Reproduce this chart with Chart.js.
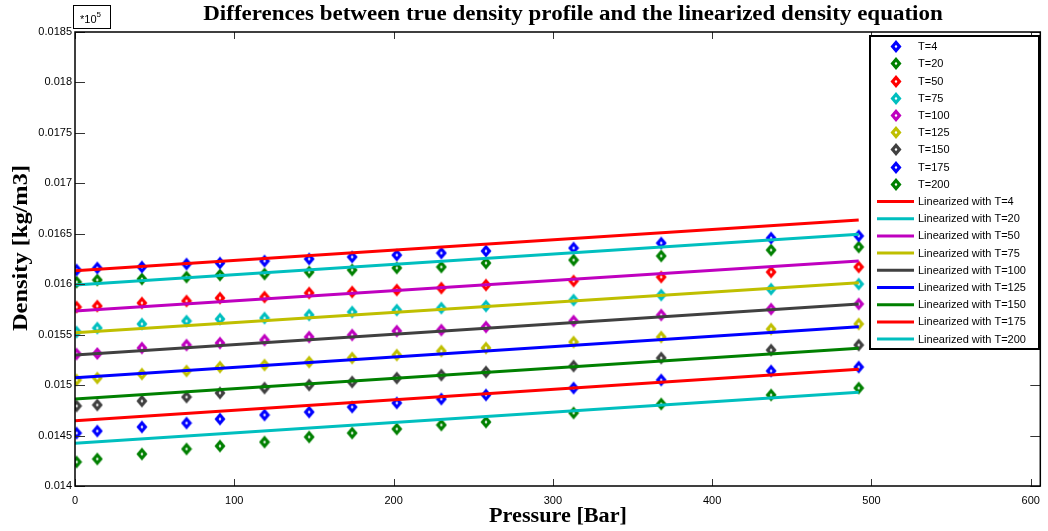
<!DOCTYPE html>
<html>
<head>
<meta charset="utf-8">
<title>Density vs pressure</title>
<script src="https://cdn.jsdelivr.net/npm/chart.js@4.4.1/dist/chart.umd.min.js"></script>
<style>
  html, body { margin: 0; padding: 0; background: #fff; }
  #wrap { width: 1048px; height: 531px; }
</style>
</head>
<body>
<div id="wrap"><canvas id="densityChart" width="1048" height="531"></canvas></div>
<script>
// ===== Data =====

// pressure steps [Bar]
const pressure = [1, 14, 42, 70, 91, 119, 147, 174, 202, 230, 258, 313, 368, 437, 492];
const temps = [4, 20, 50, 75, 100, 125, 150, 175, 200];

// true density [kg/m3] at each temperature
const rhoT4   = [1614.1, 1616.1, 1617.1, 1620.0, 1621.0, 1623.0, 1625.0, 1627.0, 1628.9, 1630.9, 1632.9, 1635.9, 1640.8, 1645.8, 1647.8];
const rhoT20  = [1602.2, 1604.2, 1605.2, 1607.1, 1609.1, 1610.1, 1612.1, 1614.1, 1616.1, 1617.1, 1621.0, 1624.0, 1628.0, 1633.9, 1636.9];
const rhoT50  = [1577.4, 1578.4, 1581.4, 1583.4, 1586.3, 1587.3, 1591.3, 1592.3, 1594.3, 1596.2, 1599.2, 1603.2, 1607.1, 1612.1, 1617.1];
const rhoT75  = [1552.6, 1556.6, 1560.6, 1563.5, 1565.5, 1566.5, 1569.5, 1572.5, 1574.4, 1576.4, 1578.4, 1584.3, 1589.3, 1595.2, 1600.2];
const rhoT100 = [1530.8, 1531.3, 1536.8, 1539.7, 1541.7, 1544.7, 1547.7, 1549.7, 1553.6, 1554.6, 1557.6, 1563.5, 1569.5, 1575.4, 1580.4];
const rhoT125 = [1505.1, 1507.0, 1511.0, 1514.0, 1517.9, 1519.9, 1522.9, 1526.9, 1529.8, 1533.8, 1536.8, 1542.7, 1547.7, 1555.6, 1560.6];
const rhoT150 = [1479.3, 1480.3, 1484.2, 1488.2, 1492.2, 1497.1, 1500.1, 1503.1, 1507.0, 1510.0, 1513.0, 1518.9, 1526.9, 1534.8, 1539.7];
const rhoT175 = [1452.5, 1454.5, 1458.5, 1462.4, 1466.4, 1470.4, 1473.3, 1478.3, 1482.3, 1486.2, 1490.2, 1497.1, 1505.1, 1514.0, 1517.9];
const rhoT200 = [1423.8, 1426.8, 1431.7, 1436.7, 1439.6, 1443.6, 1448.6, 1452.5, 1456.5, 1460.5, 1463.4, 1472.4, 1481.3, 1490.2, 1497.1];
const measured = [rhoT4, rhoT20, rhoT50, rhoT75, rhoT100, rhoT125, rhoT150, rhoT175, rhoT200];

// linearized density equation: value at both ends of the pressure range
const fitP = [0, 492];
const fitStart = [1613.4, 1599.2, 1573.4, 1551.9, 1529.8, 1507.3, 1486.2, 1464.7, 1442.3];
const fitEnd   = [1663.6, 1649.5, 1623.0, 1601.5, 1580.4, 1557.9, 1536.5, 1515.7, 1492.9];

// axis ticks (density shown in units of 10^5 kg/m3)
const xTicks = [0, 100, 200, 300, 400, 500, 600];
const yTicks = [0.014, 0.0145, 0.015, 0.0155, 0.016, 0.0165, 0.017, 0.0175, 0.018, 0.0185];
const yScaleFactor = 1e-5;

const markerColors = ["#0000ff", "#008000", "#ff0000", "#00bfbf", "#bf00bf", "#bfbf00", "#404040", "#0000ff", "#008000"];
const lineColors   = ["#ff0000", "#00bfbf", "#bf00bf", "#bfbf00", "#404040", "#0000ff", "#008000", "#ff0000", "#00bfbf"];

// ===== Marker icon: thick diamond with a small white centre =====

function diamondIcon(color) {
  const c = document.createElement("canvas");
  c.width = 12;
  c.height = 15;
  const g = c.getContext("2d");
  g.fillStyle = color;
  g.beginPath();
  g.moveTo(6, 1); g.lineTo(11.5, 7.5); g.lineTo(6, 14); g.lineTo(0.5, 7.5);
  g.closePath();
  g.fill();
  g.fillStyle = "#fff";
  g.beginPath();
  g.moveTo(6, 5.8); g.lineTo(7.4, 7.5); g.lineTo(6, 9.2); g.lineTo(4.6, 7.5);
  g.closePath();
  g.fill();
  return c;
}

// ===== Datasets =====

const pointSets = temps.map((t, i) => ({
  label: "T=" + t,
  data: pressure.map((p, k) => ({ x: p, y: measured[i][k] * yScaleFactor })),
  showLine: false,
  pointStyle: diamondIcon(markerColors[i]),
  pointRadius: 6,
  borderColor: markerColors[i],
  order: 2,
}));

const fitSets = temps.map((t, i) => ({
  label: "Linearized with T=" + t,
  data: [
    { x: fitP[0], y: fitStart[i] * yScaleFactor },
    { x: fitP[1], y: fitEnd[i] * yScaleFactor },
  ],
  showLine: true,
  borderColor: lineColors[i],
  borderWidth: 3,
  pointRadius: 0,
  order: 1,
}));

// ===== Box, inward ticks, titles, exponent tag and legend =====

const serifBold = "bold 20px 'Liberation Serif', 'Times New Roman', serif";
const sans11 = "11px 'Liberation Sans', Arial, sans-serif";

function stretchedText(ctx, text, x, y, sx, rot) {
  ctx.save();
  ctx.translate(x, y);
  ctx.rotate(rot);
  ctx.scale(sx, 1);
  ctx.fillText(text, 0, 0);
  ctx.restore();
}

const frame = {
  id: "frame",
  afterDraw(chart) {
    const { ctx, chartArea: a, scales } = chart;
    const sx = scales.x, sy = scales.y;
    ctx.save();

    // tick marks pointing into the plot on all four sides
    ctx.strokeStyle = "#333";
    ctx.lineWidth = 1;
    ctx.beginPath();
    xTicks.forEach(v => {
      const px = Math.round(sx.getPixelForValue(v)) + 0.5;
      ctx.moveTo(px, a.bottom); ctx.lineTo(px, a.bottom - 7);
      ctx.moveTo(px, a.top); ctx.lineTo(px, a.top + 7);
    });
    yTicks.forEach(v => {
      const py = Math.round(sy.getPixelForValue(v)) + 0.5;
      ctx.moveTo(a.left, py); ctx.lineTo(a.left + 10, py);
      ctx.moveTo(a.right, py); ctx.lineTo(a.right - 10, py);
    });
    ctx.stroke();

    // axes box
    ctx.strokeStyle = "#000";
    ctx.lineWidth = 1.5;
    ctx.strokeRect(a.left, a.top, a.right - a.left, a.bottom - a.top);

    // title and axis titles
    ctx.fillStyle = "#000";
    ctx.font = serifBold;
    ctx.textAlign = "center";
    ctx.textBaseline = "middle";
    stretchedText(ctx, "Differences between true density profile and the linearized density equation", 573, 15, 1.15, 0);
    stretchedText(ctx, "Pressure [Bar]", 558, 517, 1.11, 0);
    stretchedText(ctx, "Density [kg/m3]", 22, 248, 1.22, -Math.PI / 2);

    // exponent tag above the y axis
    ctx.lineWidth = 1;
    ctx.strokeStyle = "#000";
    ctx.strokeRect(73.5, 5.5, 37, 23);
    ctx.textAlign = "left";
    ctx.textBaseline = "alphabetic";
    ctx.font = sans11;
    ctx.fillText("*10", 80, 23);
    ctx.font = "8px 'Liberation Sans', Arial, sans-serif";
    ctx.fillText("5", 96.5, 17);

    // legend
    const lg = { left: 870, top: 36, right: 1039, bottom: 349, row: 17.2, first: 46.7 };
    ctx.fillStyle = "#fff";
    ctx.fillRect(lg.left, lg.top, lg.right - lg.left, lg.bottom - lg.top);
    ctx.lineWidth = 2;
    ctx.strokeStyle = "#000";
    ctx.strokeRect(lg.left, lg.top, lg.right - lg.left, lg.bottom - lg.top);
    ctx.font = sans11;
    ctx.textBaseline = "middle";
    pointSets.concat(fitSets).forEach((ds, k) => {
      const cy = lg.first + k * lg.row;
      if (ds.showLine) {
        ctx.strokeStyle = ds.borderColor;
        ctx.lineWidth = 3;
        ctx.beginPath();
        ctx.moveTo(877, cy); ctx.lineTo(914, cy);
        ctx.stroke();
      } else {
        const icon = ds.pointStyle;
        ctx.drawImage(icon, Math.round(896 - icon.width / 2), Math.round(cy - icon.height / 2));
      }
      ctx.fillStyle = "#000";
      ctx.fillText(ds.label, 918, cy + 0.5);
    });

    ctx.restore();
  },
};

// ===== Chart =====

const ctx = document.getElementById("densityChart");
new Chart(ctx, {
  type: "scatter",
  data: { datasets: pointSets.concat(fitSets) },
  options: {
    responsive: false,
    animation: false,
    layout: { padding: { top: 32, right: 7, left: 0, bottom: 0 } },
    plugins: {
      legend: { display: false },
      tooltip: { enabled: false },
    },
    scales: {
      x: {
        type: "linear",
        min: 0,
        max: 606,
        afterBuildTicks: s => { s.ticks = xTicks.map(v => ({ value: v })); },
        afterFit: s => { s.height = 45; },
        grid: { display: false, drawTicks: false },
        border: { display: false },
        ticks: {
          color: "#000",
          padding: 8,
          maxRotation: 0,
          font: { family: "'Liberation Sans', Arial, sans-serif", size: 11 },
        },
      },
      y: {
        type: "linear",
        min: 0.014,
        max: 0.0185,
        afterBuildTicks: s => { s.ticks = yTicks.map(v => ({ value: v })); },
        afterFit: s => { s.width = 75; },
        grid: { display: false, drawTicks: false },
        border: { display: false },
        ticks: {
          color: "#000",
          padding: 3,
          font: { family: "'Liberation Sans', Arial, sans-serif", size: 11 },
          callback: v => String(parseFloat(v.toFixed(4))),
        },
      },
    },
  },
  plugins: [frame],
});
</script>
</body>
</html>
